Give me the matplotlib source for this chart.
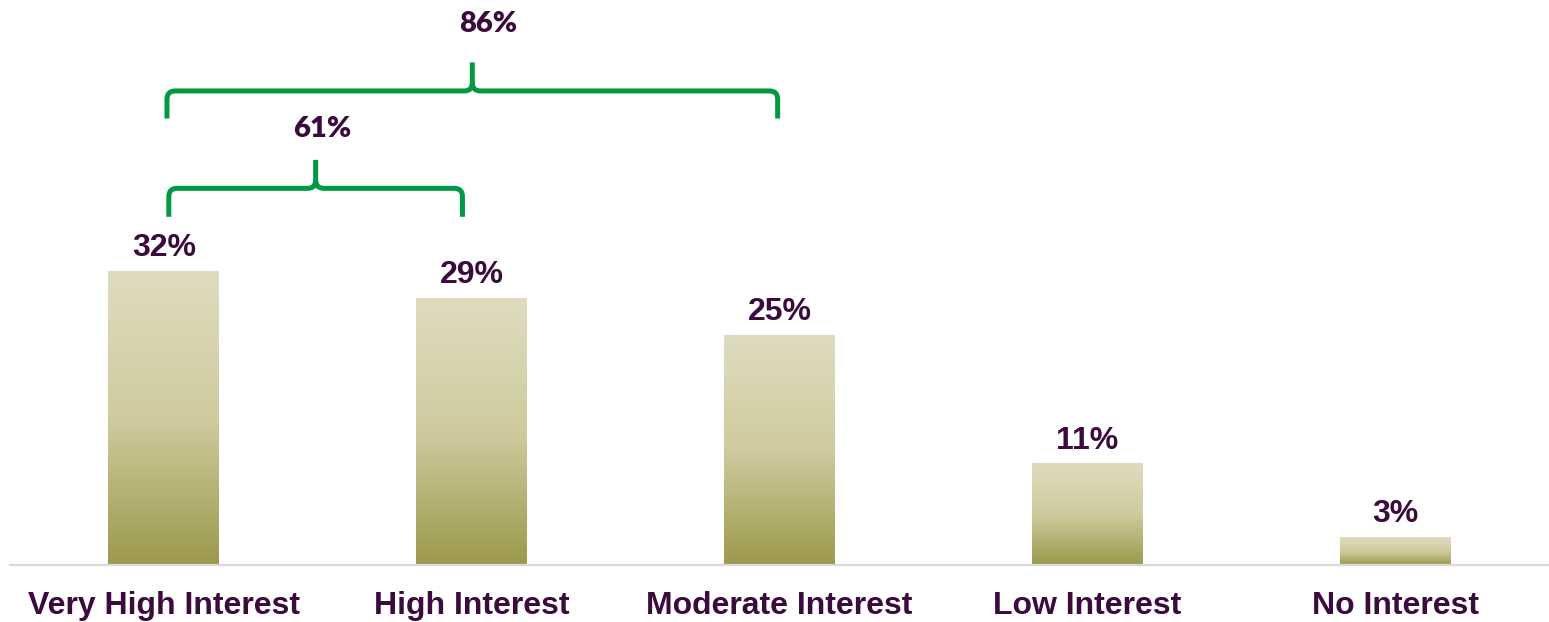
import numpy as np
import matplotlib
matplotlib.use("Agg")
import matplotlib.pyplot as plt
from matplotlib.path import Path
from matplotlib.patches import PathPatch
from matplotlib.colors import LinearSegmentedColormap

# survey answers and their shares (percent)
categories = ["Very High Interest", "High Interest", "Moderate Interest",
              "Low Interest", "No Interest"]
shares = [32, 29, 25, 11, 3]

# brackets that sum the top answers: (first index, last index)
groups = [(0, 1), (0, 2)]

TEXT = "#3a0b3c"
GREEN = "#009a44"

fig = plt.figure(figsize=(15.49, 6.22), dpi=100)
ax = fig.add_axes([10 / 1549, 57 / 622, 1 - 10 / 1549, 1 - 57 / 622])

x = np.arange(len(categories))
bars = ax.bar(x, shares, width=0.36, color="none", edgecolor="none")

# vertical olive gradient for every bar
grad_cmap = LinearSegmentedColormap.from_list(
    "olive", [(0.0, "#9c994c"), (0.5, "#cfcb9e"), (1.0, "#dedcbf")])
grad = np.linspace(0, 1, 256).reshape(-1, 1)
for rect in bars:
    x0 = rect.get_x()
    w = rect.get_width()
    h = rect.get_height()
    ax.imshow(grad, extent=(x0, x0 + w, 0, h), origin="lower",
              cmap=grad_cmap, aspect="auto", zorder=2)

for xi, v in zip(x, shares):
    ax.annotate(f"{v}%", (xi, v), xytext=(0, 11), textcoords="offset points",
                ha="center", va="baseline", fontsize=23, fontweight="bold",
                family="Liberation Sans", color=TEXT)

# curly brackets above the grouped bars
def bracket(ax, xa, xb, yb, yh, yt):
    rx, ry = 0.026, 0.9
    xm = (xa + xb) / 2
    verts = [(xa, yb), (xa, yh - ry), (xa, yh), (xa + rx, yh),
             (xm - rx, yh), (xm, yh), (xm, yh + ry), (xm, yt),
             (xm, yh + ry), (xm, yh), (xm + rx, yh),
             (xb - rx, yh), (xb, yh), (xb, yh - ry), (xb, yb)]
    codes = [Path.MOVETO, Path.LINETO, Path.CURVE3, Path.CURVE3,
             Path.LINETO, Path.CURVE3, Path.CURVE3, Path.LINETO,
             Path.MOVETO, Path.CURVE3, Path.CURVE3,
             Path.LINETO, Path.CURVE3, Path.CURVE3, Path.LINETO]
    ax.add_patch(PathPatch(Path(verts, codes), fill=False, edgecolor=GREEN,
                           linewidth=3.6, capstyle="butt", joinstyle="round",
                           zorder=3))
    return xm

# bracket ends, heights and label placement
ends = [(0.016, 0.97), (0.01, 1.994)]
levels = [(37.9, 41.0, 44.1, 46.6), (48.6, 51.6, 54.7, 58.0)]
label_dx = [0.02, 0.052]
for (a, b), (xa, xb), (yb, yh, yt, ylab), dx in zip(groups, ends, levels,
                                                    label_dx):
    xm = bracket(ax, xa, xb, yb, yh, yt)
    total = sum(shares[a:b + 1])
    ax.text(xm + dx, ylab, f"{total}%", ha="center", va="baseline",
            fontsize=21, fontweight="heavy", family="Lato", color=TEXT)

ax.set_xlim(-0.5, 4.5)
ax.set_ylim(0, 61.5)
ax.set_xticks(x)
ax.set_xticklabels(categories, fontsize=23, fontweight="bold",
                   family="Liberation Sans", color=TEXT)
ax.tick_params(axis="x", length=0, pad=19)
ax.set_yticks([])
for s in ["top", "left", "right"]:
    ax.spines[s].set_visible(False)
ax.spines["bottom"].set_color("#d9d9d9")
ax.spines["bottom"].set_linewidth(1.6)

fig.savefig("out.png", dpi=100)
